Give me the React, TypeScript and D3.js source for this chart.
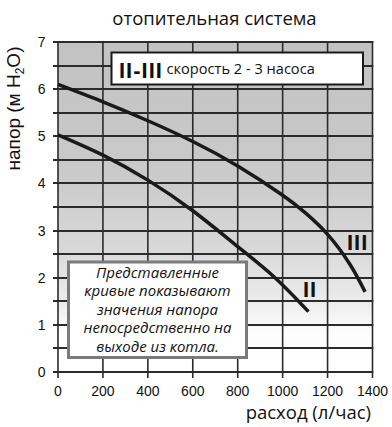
import React from "react";
import * as d3 from "d3";

const title = "отопительная система";
const xTitle = "расход (л/час)";
const yTitleMain = "напор (м H";
const xTicks = [0, 200, 400, 600, 800, 1000, 1200, 1400];
const yTicks = [0, 1, 2, 3, 4, 5, 6, 7];
const yGrid = [0, 0.5, 1, 1.5, 2, 2.5, 3, 3.5, 4, 4.5, 5, 5.5, 6, 6.5, 7];

const flowII = [0, 200, 400, 600, 800, 966, 1115];
const headII = [5.03, 4.6, 4.07, 3.42, 2.66, 2.0, 1.28];
const flowIII = [0, 200, 400, 600, 800, 1000, 1100, 1200, 1300, 1367];
const headIII = [6.1, 5.73, 5.33, 4.89, 4.37, 3.75, 3.38, 2.92, 2.28, 1.7];

const legendRoman = "II-III";
const legendText = "скорость 2 - 3 насоса";
const noteLines = [
  "Представленные",
  "кривые показывают",
  "значения напора",
  "непосредственно на",
  "выходе из котла.",
];

export default function App() {
  const W = 392;
  const H = 427;
  const x = d3.scaleLinear().domain([0, 1400]).range([58, 372.5]);
  const y = d3.scaleLinear().domain([0, 7]).range([372, 42]);
  const lineGen = d3
    .line<[number, number]>()
    .x((d) => x(d[0]))
    .y((d) => y(d[1]))
    .curve(d3.curveNatural);
  const dII = lineGen(flowII.map((f, i) => [f, headII[i]] as [number, number]))!;
  const dIII = lineGen(flowIII.map((f, i) => [f, headIII[i]] as [number, number]))!;

  const xR = x(1400);
  const yT = y(7);

  const sans = "'Liberation Sans', Arial, sans-serif";
  const open = "'Open Sans', sans-serif";
  const gridColor = "#2b2b2b";

  return (
    <svg
      width={W}
      height={H}
      style={{ position: "fixed", left: 0, top: 0, background: "#fff" }}
    >
      <defs>
        <linearGradient id="bg" x1="0" y1="0" x2="0" y2="1">
          <stop offset="0" stopColor="#c2c2c2" />
          <stop offset="0.4" stopColor="#cacaca" />
          <stop offset="0.62" stopColor="#d8d8d8" />
          <stop offset="0.78" stopColor="#ebebeb" />
          <stop offset="0.88" stopColor="#fdfdfd" />
          <stop offset="1" stopColor="#ffffff" />
        </linearGradient>
      </defs>
      <text x={214.5} y={25} textAnchor="middle" fontFamily={open} fontSize={18.5} fill="#111">
        {title}
      </text>
      <rect x={x(0)} y={yT} width={xR - x(0)} height={y(0) - yT} fill="url(#bg)" />
      {yGrid.map((v) => (
        <line
          key={"gh" + v}
          x1={53}
          y1={Math.round(y(v))}
          x2={xR + 0.8}
          y2={Math.round(y(v))}
          stroke={gridColor}
          strokeWidth={2}
        />
      ))}
      {xTicks.map((v) => (
        <line
          key={"gv" + v}
          x1={x(v)}
          y1={yT - 1}
          x2={x(v)}
          y2={378}
          stroke={gridColor}
          strokeWidth={1.6}
        />
      ))}
      {yTicks.map((v) => (
        <text key={"yt" + v} x={45.5} y={y(v)} dy="0.36em" textAnchor="end" fontFamily={sans} fontSize={14} fill="#111">
          {v}
        </text>
      ))}
      {xTicks.map((v) => (
        <text key={"xt" + v} x={x(v)} y={396} textAnchor="middle" fontFamily={sans} fontSize={14} fill="#111">
          {v}
        </text>
      ))}
      <text x={371} y={419} textAnchor="end" fontFamily={open} fontSize={18.5} fill="#111">
        {xTitle}
      </text>
      <text
        transform={`translate(20,108.5) rotate(-90)`}
        textAnchor="middle"
        fontFamily={sans}
        fontSize={19}
        fill="#111"
      >
        {yTitleMain}
        <tspan fontSize={12} dy={4}>2</tspan>
        <tspan dy={-4}>O)</tspan>
      </text>
      <path d={dIII} fill="none" stroke="#1a1a1a" strokeWidth={3.5} />
      <path d={dII} fill="none" stroke="#1a1a1a" strokeWidth={3.5} />
      <text x={347} y={250} fontFamily={sans} fontWeight="bold" fontSize={22} letterSpacing={1} fill="#111">
        III
      </text>
      <text x={303} y={296.5} fontFamily={sans} fontWeight="bold" fontSize={22} letterSpacing={1} fill="#111">
        II
      </text>
      <rect x={111.5} y={52.5} width={251.5} height={32} fill="#fff" stroke="#1a1a1a" strokeWidth={2} />
      <text x={119} y={78.3} fontFamily={sans} fontWeight="bold" fontSize={22} letterSpacing={1} fill="#111">
        {legendRoman}
      </text>
      <text x={166.5} y={74} fontFamily={open} fontSize={14.6} fill="#111">
        {legendText}
      </text>
      <rect x={68.5} y={262} width={178} height={95.5} fill="#fff" stroke="#7a7a7a" strokeWidth={3} />
      {noteLines.map((t, i) => (
        <text
          key={t}
          x={157.5}
          y={278 + i * 18.45}
          textAnchor="middle"
          fontFamily={open}
          fontStyle="italic"
          fontSize={15}
          fill="#111"
        >
          {t}
        </text>
      ))}
    </svg>
  );
}
